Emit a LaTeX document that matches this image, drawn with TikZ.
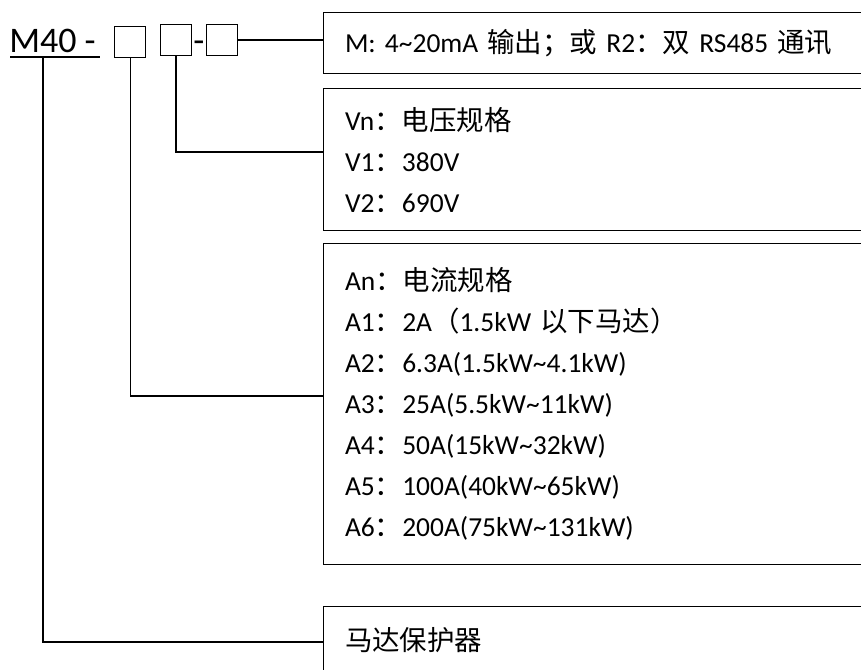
\documentclass[tikz,border=0pt]{standalone}
\usepackage{fontspec}
\setmainfont{Carlito}
\newfontfamily\cjk{Noto Sans CJK SC}
\usetikzlibrary{positioning,calc}

\begin{document}
\begin{tikzpicture}[
        x=0.75pt, y=-0.75pt,
        code/.style={inner sep=0pt, anchor=base west, font=\fontsize{27}{32}\selectfont},
        sep/.style={inner sep=0pt, anchor=base, font=\fontsize{27}{32}\selectfont},
        slot/.style={rectangle, draw, anchor=north west, minimum width=23.25pt, minimum height=23.25pt, inner sep=0pt, line width=1pt},
        info/.style={rectangle, draw, anchor=north west, text width=388pt, inner xsep=16pt, align=left, line width=1pt, font=\fontsize{20.6}{30.75}\selectfont},
        link/.style={draw, line width=1pt},
        boldlink/.style={draw, line width=1.5pt}
    ]
    \clip (0,0) rectangle (861,670);

    % Model code
    \node [code] (code) at (9,53) {M40 -};
    \draw [line width=1.5pt] (10,57) -- (100,57);
    \node [slot] (slotA) at (114,26) {};
    \node [slot] (slotV) at (160,24) {};
    \node [sep] (dash) at (199,53) {-};
    \node [slot] (slotM) at (206,24) {};

    % Option boxes
    \node [info, minimum height=45.75pt] (infoM) at (323,12) {M: 4\textasciitilde 20mA {\cjk 输出；或} R2{\cjk ：双} RS485 {\cjk 通讯}};
    \node [info, minimum height=106.5pt] (infoV) at (323,88) {Vn{\cjk ：电压规格}\\V1{\cjk ：}380V\\V2{\cjk ：}690V};
    \node [info, minimum height=240.75pt] (infoA) at (323,243) {An{\cjk ：电流规格}\\A1{\cjk ：}2A{\cjk （}1.5kW {\cjk 以下马达）}\\A2{\cjk ：}6.3A(1.5kW\textasciitilde 4.1kW)\\A3{\cjk ：}25A(5.5kW\textasciitilde 11kW)\\A4{\cjk ：}50A(15kW\textasciitilde 32kW)\\A5{\cjk ：}100A(40kW\textasciitilde 65kW)\\A6{\cjk ：}200A(75kW\textasciitilde 131kW)};
    \node [info, minimum height=49.5pt] (infoP) at (323,606) {{\cjk 马达保护器}};

    % Tap points on the boxes
    \coordinate (codeTap) at (43,57);
    \coordinate (tapV) at (323,152);
    \coordinate (tapA) at (323,396);
    \coordinate (tapP) at (323,642);

    % Connections
    \path [boldlink] (slotM) -- (slotM -| infoM.west);
    \path [boldlink] (slotV.south) |- (tapV);
    \path [link] (slotA.south) |- (tapA);
    \path [link] (codeTap) |- (tapP);

\end{tikzpicture}
\end{document}
